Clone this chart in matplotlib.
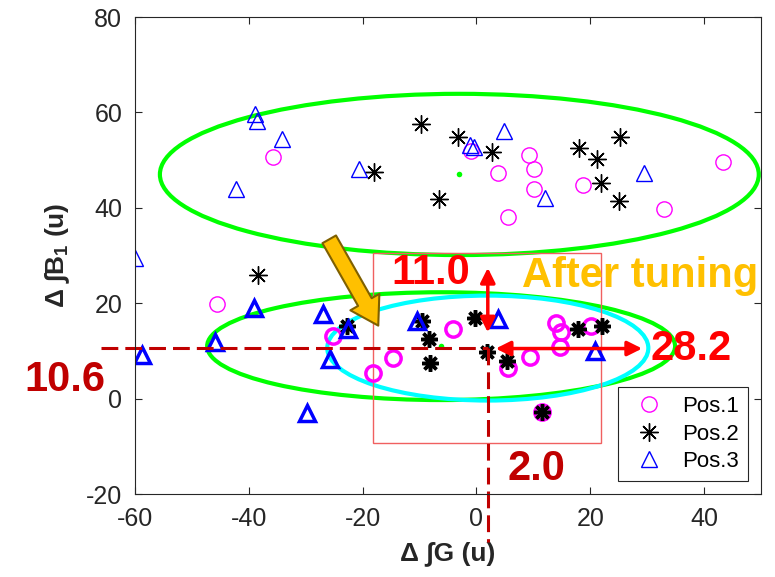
import matplotlib
matplotlib.use('Agg')
import matplotlib.pyplot as plt
from matplotlib.patches import Ellipse, Rectangle

plt.rcParams['font.family'] = ['Liberation Sans', 'DejaVu Sans']
plt.rcParams['axes.unicode_minus'] = False
plt.rcParams['mathtext.fontset'] = 'custom'
plt.rcParams['mathtext.rm'] = 'Liberation Sans:bold'
plt.rcParams['mathtext.default'] = 'rm'

# before tuning (thin markers)
pos1_before_x = [-35.7, -0.9, 3.8, 9.3, 10.2, 10.2, 5.6, 18.8, 32.9, 43.3, -45.6]
pos1_before_y = [50.7, 51.9, 47.3, 51.1, 48.1, 43.9, 38.1, 44.7, 39.7, 49.6, 19.8]
pos2_before_x = [-18.0, -9.7, -3.3, 2.8, -6.5, 18.1, 21.2, 25.3, 21.8, 25.0, -38.4]
pos2_before_y = [47.6, 57.5, 54.9, 51.8, 41.8, 52.5, 50.2, 54.8, 45.1, 41.4, 25.9]
pos3_before_x = [-38.9, -38.5, -34.2, -42.2, -20.6, -1.1, -0.5, 4.8, 12.1, 29.4, -60.0]
pos3_before_y = [59.7, 58.2, 54.4, 43.9, 48.1, 53.2, 52.7, 56.2, 42.0, 47.2, 29.4]

# after tuning (thick markers)
pos1_after_x = [-25.2, -18.1, -14.7, -4.2, 5.5, 9.4, 14.0, 14.9, 14.6, 20.2, 11.6]
pos1_after_y = [13.1, 5.4, 8.6, 14.5, 6.5, 8.8, 15.8, 14.0, 10.9, 15.3, -2.7]
pos2_after_x = [-22.7, -9.6, -8.3, -8.2, -0.3, 1.8, 5.3, 17.9, 22.1, 11.6]
pos2_after_y = [15.2, 16.3, 12.5, 7.5, 16.8, 9.8, 7.8, 14.7, 15.3, -2.7]
pos3_after_x = [-58.8, -46.0, -39.1, -27.0, -25.7, -29.8, -22.6, -10.5, 3.8, 20.9]
pos3_after_y = [9.1, 11.9, 18.9, 17.8, 8.4, -3.0, 14.7, 16.3, 16.7, 10.0]

# fitted ellipses: center x, center y, half width, half height
ell_before = [-3.0, 47.0, 52.6, 16.9]
ell_after_green = [-6.2, 11.0, 41.1, 11.3]
ell_after_cyan = [2.0, 10.6, 28.2, 11.0]

box = [-18.1, -9.3, 21.8, 30.5]

star = (8, 2, 0)

fig = plt.figure(figsize=(7.75, 5.77), dpi=100)
ax = fig.add_axes([0.174, 0.1438, 0.808, 0.8267])

for e, c in [(ell_before, '#00ff00'), (ell_after_green, '#00ff00'), (ell_after_cyan, '#00ffff')]:
    ax.add_patch(Ellipse((e[0], e[1]), 2 * e[2], 2 * e[3], fill=False, ec=c, lw=3))
    ax.plot(e[0], e[1], 'o', color=c, ms=4, mec='none')

ax.add_patch(Rectangle((box[0], box[1]), box[2] - box[0], box[3] - box[1],
                       fill=False, ec='#f06060', lw=1))

ax.plot(pos1_before_x, pos1_before_y, 'o', ms=11, mfc='none', mec='#ff00ff', mew=1, label='Pos.1')
ax.plot(pos2_before_x, pos2_before_y, ls='none', marker=star, ms=13, mec='k', mew=1, label='Pos.2')
ax.plot(pos3_before_x, pos3_before_y, '^', ms=12, mfc='none', mec='#0000ff', mew=1, label='Pos.3')

ax.plot(pos1_after_x, pos1_after_y, 'o', ms=11, mfc='none', mec='#ff00ff', mew=2.5)
ax.plot(pos2_after_x, pos2_after_y, ls='none', marker=star, ms=12, mec='k', mew=2.5)
ax.plot(pos3_after_x, pos3_after_y, '^', ms=12, mfc='none', mec='#0000ff', mew=2.5)

# dashed guide lines to the cyan ellipse center
cx, cy = ell_after_cyan[0], ell_after_cyan[1]
ax.plot([-66, cx], [cy, cy], color='#c00000', lw=2.2, ls=(0, (5.5, 2.3)), clip_on=False)
ax.plot([cx, cx], [cy, -30], color='#c00000', lw=2.2, ls=(0, (5.5, 2.3)), clip_on=False)

# red double arrows
ax.annotate('', xy=(cx, 28.0), xytext=(cx, 13.3),
            arrowprops=dict(arrowstyle='<|-|>', color='#ff0000', lw=2.5, mutation_scale=22))
ax.annotate('', xy=(29.6, 10.5), xytext=(2.9, 10.5),
            arrowprops=dict(arrowstyle='<|-|>', color='#ff0000', lw=2.5, mutation_scale=22))

# yellow arrow
ax.annotate('', xy=(-17.0, 14.8), xytext=(-26.1, 33.9),
            arrowprops=dict(arrowstyle='simple,head_width=1.6,head_length=1.3,tail_width=0.75',
                            fc='#ffc000', ec='#7f6000', lw=1.5, mutation_scale=15))

ax.text(-8.1, 26.3, '11.0', color='#ff0000', fontsize=30, fontweight='bold', ha='center', va='center')
ax.text(8.0, 23.4, 'After tuning', color='#ffc000', fontsize=30, fontweight='bold', ha='left', va='baseline')
ax.text(37.7, 10.4, '28.2', color='#ff0000', fontsize=30, fontweight='bold', ha='center', va='center', clip_on=False)
ax.text(-72.3, 3.9, '10.6', color='#c00000', fontsize=30, fontweight='bold', ha='center', va='center', clip_on=False)
ax.text(10.5, -14.7, '2.0', color='#c00000', fontsize=30, fontweight='bold', ha='center', va='center')

ax.set_xlim(-60, 50)
ax.set_ylim(-20, 80)
ax.set_xticks([-60, -40, -20, 0, 20, 40])
ax.set_yticks([-20, 0, 20, 40, 60, 80])
ax.tick_params(direction='in', length=5, width=0.8, colors='#262626', labelsize=18,
               top=True, right=True, pad=9)
for s in ax.spines.values():
    s.set_color('#262626')
    s.set_linewidth(0.8)

ax.set_xlabel('Δ ∫G (u)', fontsize=19, fontweight='bold', color='#262626', labelpad=8)
ax.set_ylabel('Δ ∫B$_1$ (u)', fontsize=19, fontweight='bold', color='#262626', labelpad=10)

leg = ax.legend(loc='lower right', bbox_to_anchor=(0.979, 0.027), borderaxespad=0,
                fontsize=16, handlelength=2.0, handletextpad=0.5, borderpad=0.4,
                labelspacing=0.3, fancybox=False, framealpha=1, edgecolor='#262626')
leg.get_frame().set_linewidth(0.8)

fig.savefig('out.png', dpi=100)
